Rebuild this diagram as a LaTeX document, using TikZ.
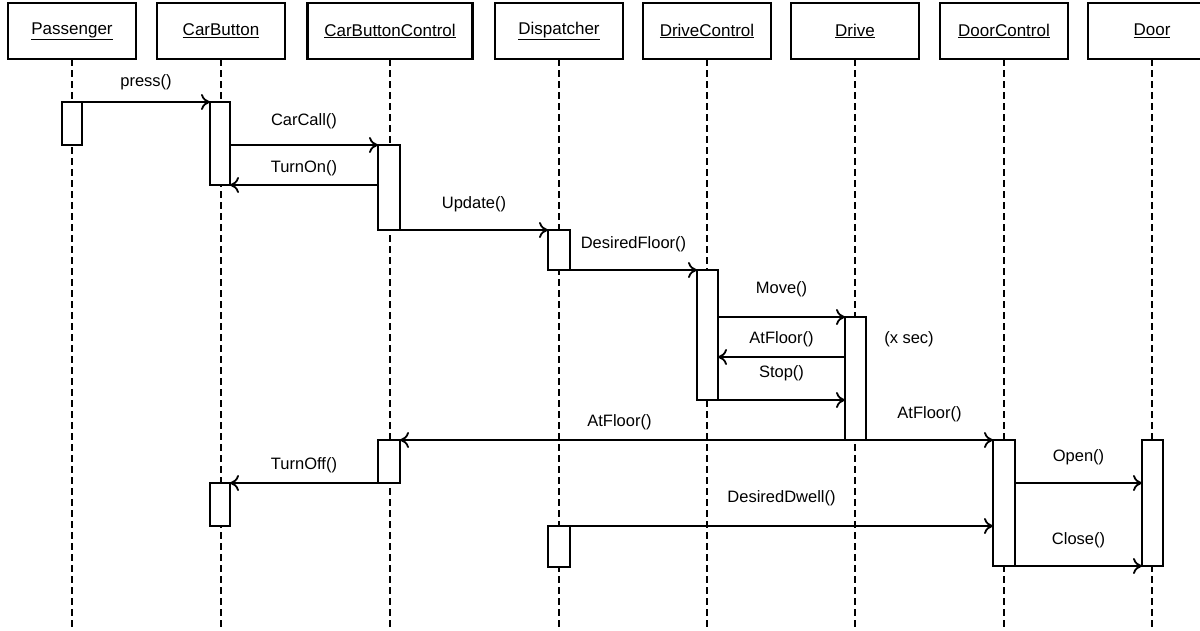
\documentclass[tikz,border=0pt]{standalone}
\usepackage{fontspec}
\setmainfont{Liberation Sans}
\usetikzlibrary{arrows.meta}
\begin{document}
\begin{tikzpicture}[x=1pt,y=-1pt,
 head/.style={draw,line width=2.2pt,minimum height=56pt,font=\fontsize{17}{20}\selectfont,inner sep=0,outer sep=0},
 bar/.style={draw,line width=2.2pt,fill=white,outer sep=0,inner sep=0},
 life/.style={line width=1.4pt,dash pattern=on 7pt off 4pt},
 msg/.style={line width=1.8pt,-{To[length=9pt,width=16pt,line width=1.8pt]}},
 lbl/.style={font=\fontsize{16.5}{19}\selectfont}]
\useasboundingbox (0,0) rectangle (1200,630);
\foreach \n/\t/\x/\w in {p/Passenger/72/128,cb/CarButton/221/128,cbc/CarButtonControl/390/165,d/Dispatcher/559/128,dc/DriveControl/707/128,dr/Drive/855/128,doc/DoorControl/1004/128,door/Door/1152/128}{
 \node[head,minimum width=\w pt] (\n) at (\x,31) {\underline{\t}};
 \draw[life] (\n.south) -- (\x,630);
}
% activation bars
\node[bar,minimum width=20pt,minimum height=43pt] (pA) at (72,123.5) {};
\node[bar,minimum width=20pt,minimum height=83pt] (cbA) at (220,143.5) {};
\node[bar,minimum width=22pt,minimum height=85pt] (cbcA) at (389,187.5) {};
\node[bar,minimum width=22pt,minimum height=40pt] (dA) at (559,250) {};
\node[bar,minimum width=21pt,minimum height=130pt] (dcA) at (707.5,335) {};
\node[bar,minimum width=21pt,minimum height=123pt] (drA) at (855.5,378.5) {};
\node[bar,minimum width=22pt,minimum height=126pt] (docA) at (1004,503) {};
\node[bar,minimum width=21pt,minimum height=126pt] (doorA) at (1152.5,503) {};
\node[bar,minimum width=22pt,minimum height=43pt] (cbcB) at (389,461.5) {};
\node[bar,minimum width=20pt,minimum height=43pt] (cbB) at (220,504.5) {};
\node[bar,minimum width=22pt,minimum height=41pt] (dB) at (559,546.5) {};
% messages
\draw[msg] (pA.north east) -- (cbA.north west) node[lbl,midway,above=8pt] {press()};
\draw[msg] (cbA.east|-cbcA.north) -- (cbcA.north west) node[lbl,midway,above=12pt] {CarCall()};
\draw[msg] (cbcA.west|-cbA.south) -- (cbA.south east) node[lbl,midway,above=5pt] {TurnOn()};
\draw[msg] (cbcA.south east) -- (dA.north west) node[lbl,midway,above=14pt] {Update()};
\draw[msg] (dA.south east) -- (dcA.north west) node[lbl,pos=0.5,above=14pt] {DesiredFloor()};
\draw[msg] (dcA.east|-drA.north) -- (drA.north west) node[lbl,midway,above=16pt] {Move()};
\coordinate (af) at (845,357);
\draw[msg] (af) -- (718,357) node[lbl,midway,above=6pt] {AtFloor()};
\node[lbl] (xs) at (909,339) {(x sec)};
\draw[msg] (dcA.south east) -- (drA.west|-dcA.south) node[lbl,midway,above=15pt] {Stop()};
\draw[msg] (drA.south east) -- (docA.north west) node[lbl,midway,above=14pt] {AtFloor()};
\draw[msg] (docA.north west) -- (cbcA.east|-docA.north) node[lbl,pos=0.63,above=6pt] {AtFloor()};
\draw[msg] (cbcB.south west) -- (cbB.north east) node[lbl,midway,above=6pt] {TurnOff()};
\draw[msg] (dB.north east) -- (docA.west|-dB.north) node[lbl,midway,above=16pt] {DesiredDwell()};
\draw[msg] (docA.east|-cbcB.south) -- (doorA.west|-cbcB.south) node[lbl,midway,above=14pt] {Open()};
\draw[msg] (docA.south east) -- (doorA.west|-docA.south) node[lbl,midway,above=14pt] {Close()};
\end{tikzpicture}
\end{document}
